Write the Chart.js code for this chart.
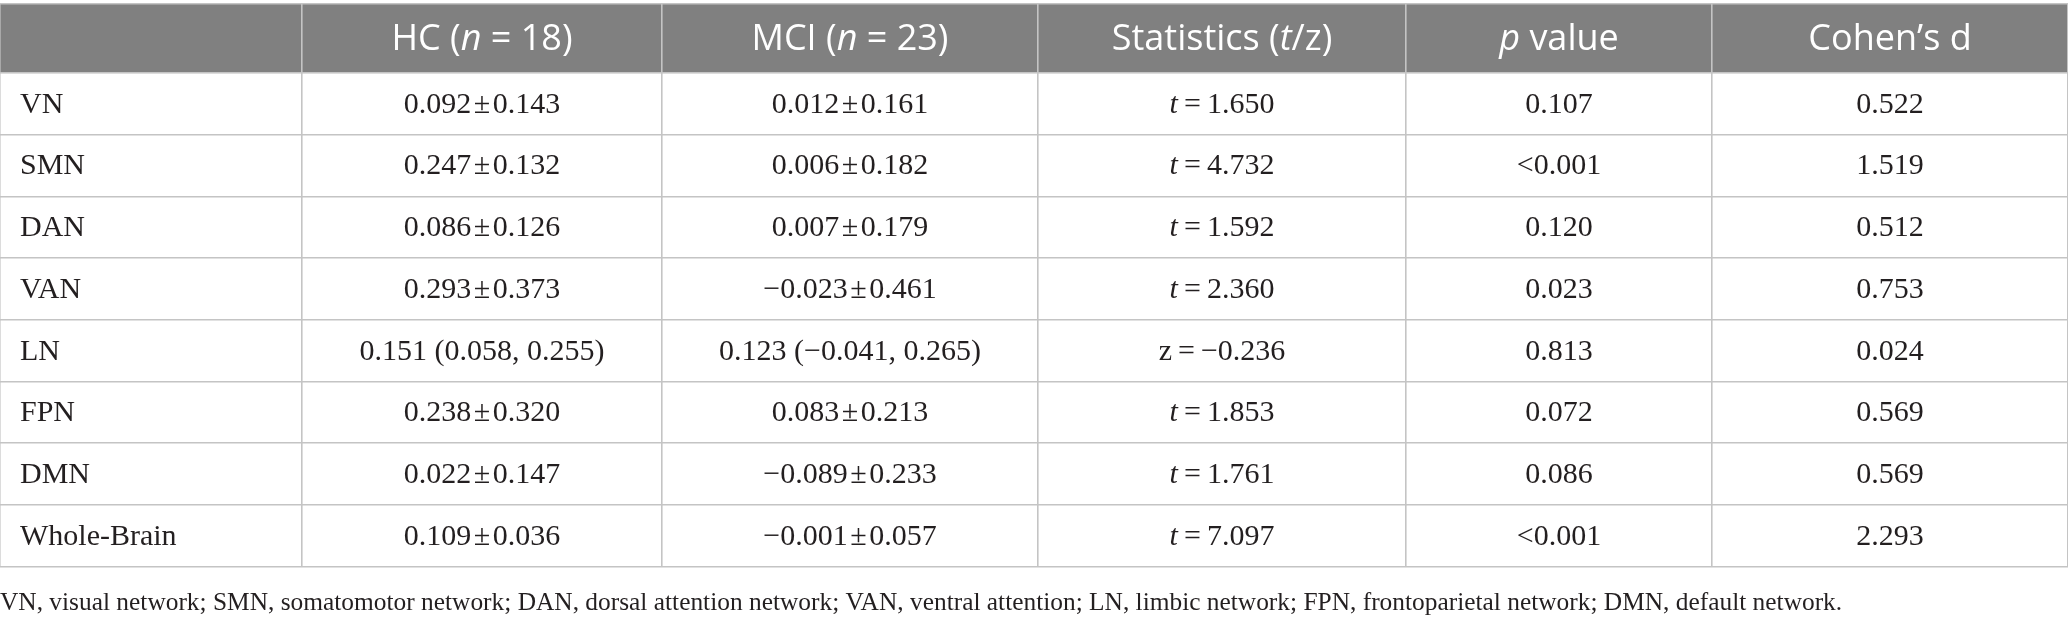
<!DOCTYPE html>
<html>
<head>
<meta charset="utf-8">
<script src="https://cdn.jsdelivr.net/npm/chart.js@4.4.1/dist/chart.umd.min.js"></script>
<style>
  html, body { margin: 0; padding: 0; background: #fff; }
  #wrap { width: 2068px; height: 619px; }
</style>
</head>
<body>
<div id="wrap"><canvas id="tablaChart"></canvas></div>
<script>
// Datos de la tabla
const networks = ['VN', 'SMN', 'DAN', 'VAN', 'LN', 'FPN', 'DMN', 'Whole-Brain'];
const hcValues = ['0.092 ± 0.143', '0.247 ± 0.132', '0.086 ± 0.126', '0.293 ± 0.373',
                  '0.151 (0.058, 0.255)', '0.238 ± 0.320', '0.022 ± 0.147', '0.109 ± 0.036'];
const mciValues = ['0.012 ± 0.161', '0.006 ± 0.182', '0.007 ± 0.179', '−0.023 ± 0.461',
                   '0.123 (−0.041, 0.265)', '0.083 ± 0.213', '−0.089 ± 0.233', '−0.001 ± 0.057'];
const statTypes = ['t', 't', 't', 't', 'z', 't', 't', 't'];
const statValues = ['1.650', '4.732', '1.592', '2.360', '−0.236', '1.853', '1.761', '7.097'];
const pValues = ['0.107', '<0.001', '0.120', '0.023', '0.813', '0.072', '0.086', '<0.001'];
const cohensD = ['0.522', '1.519', '0.512', '0.753', '0.024', '0.569', '0.569', '2.293'];

// Encabezados: segmentos [texto, cursiva]
const headers = [
    [],
    [['HC (', false], ['n', true], [' = 18)', false]],
    [['MCI (', false], ['n', true], [' = 23)', false]],
    [['Statistics (', false], ['t', true], ['/z)', false]],
    [['p', true], [' value', false]],
    [['Cohen’s d', false]]
];
const footnote = 'VN, visual network; SMN, somatomotor network; DAN, dorsal attention network; VAN, ventral attention; LN, limbic network; FPN, frontoparietal network; DMN, default network.';

// Geometría de la tabla (unidades de los ejes)
const colEdges = [0, 302, 662, 1038, 1406, 1712, 2068];
const headerH = 69;
const rowH = 61.6;
const rowEdges = [0, headerH];
networks.forEach((n, i) => rowEdges.push(headerH + (i + 1) * rowH));
const tableH = rowEdges[rowEdges.length - 1];

const serif = '"Liberation Serif", "Times New Roman", serif';
const sans = '"Open Sans", "Noto Sans", sans-serif';
const bodySize = 30;
const headSize = 36;

// Texto de cada celda, fila por fila
function cellSegments(col, i) {
    const hair = '\u200A', thin = '\u2009';
    if (col === 0) return [[networks[i], false]];
    if (col === 1) return [[hcValues[i].replace(/ ± /g, hair + '±' + hair), false]];
    if (col === 2) return [[mciValues[i].replace(/ ± /g, hair + '±' + hair), false]];
    if (col === 3) return [[statTypes[i], statTypes[i] === 't'], [thin + '=' + thin + statValues[i], false]];
    if (col === 4) return [[pValues[i], false]];
    return [[cohensD[i], false]];
}

// Un dataset por columna: un punto invisible en el centro de cada celda
const datasets = colEdges.slice(0, -1).map((left, col) => ({
    label: 'col' + col,
    data: networks.map((n, i) => ({
        x: col === 0 ? left : (left + colEdges[col + 1]) / 2,
        y: headerH + (i + 0.5) * rowH
    })),
    pointRadius: 0,
    pointHoverRadius: 0
}));

function drawSegments(ctx, segs, x, y, align, size, family, color) {
    ctx.fillStyle = color;
    ctx.textBaseline = 'middle';
    ctx.textAlign = 'left';
    let total = 0;
    segs.forEach(s => {
        ctx.font = (s[1] ? 'italic ' : '') + size + 'px ' + family;
        total += ctx.measureText(s[0]).width;
    });
    let cx = align === 'center' ? x - total / 2 : x;
    segs.forEach(s => {
        ctx.font = (s[1] ? 'italic ' : '') + size + 'px ' + family;
        ctx.fillText(s[0], cx, y);
        cx += ctx.measureText(s[0]).width;
    });
}

// Fondo gris del encabezado
const headerFill = {
    id: 'headerFill',
    beforeDraw(chart) {
        const {ctx, scales: {x, y}} = chart;
        const top = y.getPixelForValue(0);
        const bottom = y.getPixelForValue(headerH);
        ctx.save();
        ctx.fillStyle = '#808080';
        ctx.fillRect(x.left, top, x.right - x.left, bottom - top);
        ctx.restore();
    }
};

// Textos del encabezado y de las celdas
const cellText = {
    id: 'cellText',
    afterDatasetsDraw(chart) {
        const {ctx, scales: {x, y}} = chart;
        ctx.save();
        const hy = y.getPixelForValue(headerH / 2) + 1;
        headers.forEach((segs, col) => {
            if (!segs.length) return;
            const hx = x.getPixelForValue((colEdges[col] + colEdges[col + 1]) / 2);
            drawSegments(ctx, segs, hx, hy, 'center', headSize, sans, '#ffffff');
        });
        chart.data.datasets.forEach((ds, col) => {
            chart.getDatasetMeta(col).data.forEach((pt, i) => {
                const px = col === 0 ? pt.x + 20 : pt.x;
                drawSegments(ctx, cellSegments(col, i), px, pt.y + 1,
                    col === 0 ? 'left' : 'center', bodySize, serif, '#231f20');
            });
        });
        ctx.restore();
    }
};

const tablaConfig = {
    type: 'scatter',
    data: { datasets: datasets },
    options: {
        responsive: true,
        maintainAspectRatio: false,
        animation: false,
        events: [],
        layout: { padding: { top: 4, left: 0, right: 0, bottom: 0 } },
        plugins: {
            legend: { display: false },
            tooltip: { enabled: false },
            subtitle: {
                display: true,
                position: 'bottom',
                align: 'start',
                text: footnote,
                color: '#231f20',
                font: { family: serif, size: 25.4, weight: 'normal' },
                padding: { top: 22, bottom: 0 }
            }
        },
        scales: {
            x: {
                type: 'linear',
                min: 0,
                max: colEdges[colEdges.length - 1],
                afterBuildTicks: axis => { axis.ticks = colEdges.map(v => ({ value: v })); },
                ticks: { display: false },
                grid: { color: '#c4c4c4', lineWidth: 1.6, drawTicks: false },
                border: { display: false }
            },
            y: {
                type: 'linear',
                reverse: true,
                min: 0,
                max: tableH,
                afterBuildTicks: axis => { axis.ticks = rowEdges.map(v => ({ value: v })); },
                ticks: { display: false },
                grid: { color: '#c4c4c4', lineWidth: 1.6, drawTicks: false },
                border: { display: false }
            }
        }
    },
    plugins: [headerFill, cellText]
};

const tablaChart = new Chart(document.getElementById('tablaChart'), tablaConfig);
</script>
</body>
</html>
